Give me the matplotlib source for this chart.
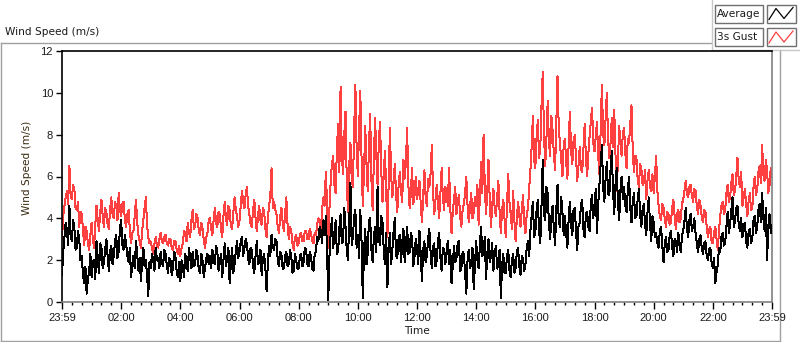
import numpy as np
import matplotlib
matplotlib.use("Agg")
import matplotlib.pyplot as plt
from matplotlib.patches import Rectangle

# ---- data: 2.5-minute samples, one row per hour (00..23) + final sample ----
average = [
    1.3, 2.4, 3.1, 3.8, 3.4, 2.7, 4.6, 3.2, 2.9, 3.9, 3.6, 2.5, 2.6, 3.4, 3.0, 2.0, 2.2, 1.3, 0.9, 1.7, 0.4, 1.1, 1.4, 2.3,
    1.2, 1.9, 2.0, 1.1, 2.9, 2.1, 1.4, 2.8, 2.6, 1.6, 1.9, 2.5, 3.0, 2.2, 1.5, 2.4, 2.7, 1.8, 2.2, 2.9, 3.2, 2.1, 2.4, 3.5,
    3.9, 2.7, 2.5, 3.2, 2.8, 2.2, 1.9, 2.6, 1.2, 1.8, 2.2, 1.6, 2.9, 2.3, 1.5, 2.1, 1.0, 1.9, 2.6, 1.7, 2.0, 1.3, 0.3, 1.9,
    1.6, 2.3, 2.0, 1.5, 2.6, 2.0, 2.1, 1.6, 2.4, 1.9, 1.7, 2.5, 2.3, 1.8, 1.4, 2.1, 2.0, 1.3, 1.6, 2.4, 2.2, 1.5, 1.2, 1.9,
    1.0, 2.0, 1.7, 1.2, 2.3, 1.9, 1.5, 2.6, 2.1, 1.6, 2.4, 1.7, 1.8, 2.5, 2.2, 1.5, 1.4, 2.3, 2.0, 1.2, 1.6, 2.1, 2.3, 1.8,
    2.2, 1.6, 2.5, 2.0, 1.8, 2.7, 2.4, 1.5, 1.9, 2.3, 1.2, 2.0, 2.8, 1.7, 2.1, 2.6, 0.9, 1.8, 2.6, 1.4, 1.8, 2.4, 2.9, 2.1,
    2.4, 2.9, 3.1, 2.2, 2.6, 3.0, 2.8, 2.1, 1.8, 2.6, 2.5, 1.7, 1.4, 2.2, 2.9, 1.8, 1.9, 2.5, 1.3, 2.1, 2.3, 1.6, 0.5, 1.9,
    2.7, 2.2, 3.2, 2.6, 2.5, 3.0, 2.9, 2.0, 1.7, 2.4, 2.3, 1.6, 1.6, 2.2, 2.4, 1.7, 1.8, 2.5, 2.2, 1.4, 1.5, 2.3, 2.0, 1.6,
    1.6, 2.2, 2.3, 1.7, 1.9, 2.6, 2.5, 1.8, 1.7, 2.4, 2.2, 1.6, 1.5, 2.3, 2.4, 3.1, 2.9, 3.6, 3.4, 2.8, 3.9, 3.2, 4.1, 2.5,
    0.1, 2.2, 3.3, 4.0, 2.6, 3.1, 3.9, 2.3, 2.4, 3.5, 4.2, 2.8, 2.9, 4.5, 3.6, 2.5, 2.0, 3.9, 5.7, 2.7, 3.1, 4.1, 4.4, 2.6,
    3.2, 2.1, 4.4, 2.9, 0.2, 2.4, 3.5, 1.8, 2.3, 3.9, 4.0, 2.5, 1.9, 3.1, 3.6, 2.4, 5.5, 3.0, 2.7, 4.1, 3.8, 2.5, 1.8, 3.3,
    0.7, 2.6, 3.3, 1.8, 2.5, 3.4, 4.0, 2.2, 2.1, 3.0, 3.2, 1.9, 2.8, 3.5, 1.9, 2.7, 3.6, 2.3, 2.4, 3.3, 3.1, 1.7, 2.2, 3.0,
    2.6, 1.8, 3.4, 2.3, 1.0, 2.5, 2.9, 1.9, 2.2, 3.0, 3.5, 2.4, 1.6, 2.6, 2.8, 1.7, 2.0, 2.9, 3.3, 2.1, 1.5, 2.6, 2.5, 1.8,
    2.4, 2.9, 1.8, 2.5, 0.9, 1.7, 2.7, 1.9, 2.1, 2.8, 2.9, 1.5, 1.6, 2.4, 2.3, 1.4, 0.4, 2.0, 2.5, 1.6, 1.9, 2.6, 0.6, 1.8,
    2.9, 2.0, 1.6, 2.7, 3.6, 2.2, 2.4, 3.1, 1.1, 2.3, 3.0, 1.9, 2.2, 2.8, 1.5, 2.3, 2.7, 1.6, 1.8, 2.5, 0.2, 1.7, 2.3, 1.4,
    1.4, 2.2, 2.5, 1.5, 1.2, 2.0, 2.3, 1.4, 1.6, 2.4, 2.6, 1.7, 1.3, 2.2, 2.1, 1.5, 1.8, 2.6, 2.9, 2.2, 3.4, 4.1, 4.8, 3.1,
    3.3, 4.4, 4.9, 3.4, 2.8, 4.6, 6.8, 4.2, 3.9, 5.5, 5.2, 3.8, 3.0, 4.1, 4.6, 3.5, 2.7, 4.4, 5.6, 3.9, 3.6, 5.0, 4.3, 3.2,
    4.1, 3.3, 2.6, 3.9, 4.8, 3.7, 3.2, 4.4, 4.5, 3.4, 2.5, 3.6, 3.8, 4.6, 4.9, 3.5, 3.1, 4.2, 4.3, 3.6, 3.4, 4.7, 5.1, 4.0,
    4.6, 5.4, 3.3, 4.7, 5.6, 6.6, 7.5, 5.5, 4.8, 5.9, 6.7, 5.2, 5.1, 6.3, 7.2, 5.4, 4.2, 5.6, 6.4, 4.8, 3.9, 5.3, 6.0, 4.9,
    5.5, 4.6, 4.3, 5.3, 6.0, 4.5, 3.8, 4.8, 5.2, 4.0, 4.1, 4.9, 5.4, 4.2, 3.6, 4.4, 4.7, 3.7, 3.2, 4.3, 5.0, 3.8, 2.9, 4.1,
    3.8, 3.1, 3.3, 2.8, 2.6, 3.4, 3.6, 2.7, 1.9, 2.8, 3.1, 2.4, 2.5, 3.2, 3.4, 2.6, 2.2, 3.0, 2.9, 2.4, 3.3, 2.7, 2.4, 3.2,
    3.4, 3.9, 4.5, 3.5, 3.1, 3.9, 4.2, 3.4, 3.6, 4.0, 3.3, 2.8, 2.4, 3.0, 3.2, 2.6, 2.3, 2.8, 2.9, 2.2, 2.0, 2.5, 2.6, 1.9,
    1.6, 2.1, 0.9, 1.4, 1.8, 2.6, 2.4, 3.1, 3.3, 2.7, 2.8, 3.6, 4.3, 3.3, 3.7, 4.4, 5.0, 3.6, 3.9, 4.5, 4.6, 3.7, 3.4, 4.0,
    3.1, 3.6, 3.8, 2.9, 2.6, 3.3, 3.5, 2.8, 3.0, 3.9, 4.1, 3.3, 3.6, 4.4, 4.7, 3.8, 5.2, 4.0, 3.4, 4.5, 2.0, 3.6, 4.2, 3.3,
    3.7,
]
gust_3s = [
    3.0, 4.1, 4.6, 5.0, 5.3, 4.7, 6.5, 5.1, 4.9, 5.6, 5.4, 4.5, 4.4, 4.8, 3.6, 4.3, 4.2, 3.5, 2.7, 3.6, 3.4, 2.8, 2.5, 3.2,
    3.8, 3.0, 2.6, 3.7, 4.6, 3.9, 3.4, 4.3, 4.9, 4.1, 3.6, 4.5, 4.3, 3.7, 3.5, 4.4, 5.0, 4.2, 4.0, 4.8, 4.6, 3.9, 5.2, 4.4,
    4.1, 4.7, 4.8, 3.9, 3.6, 4.2, 4.4, 3.5, 2.8, 3.3, 3.4, 4.1, 4.9, 3.8, 3.2, 2.9, 2.6, 3.4, 3.9, 4.5, 5.0, 3.7, 3.1, 2.8,
    2.9, 2.6, 2.3, 2.8, 3.1, 2.7, 2.6, 3.0, 3.3, 2.9, 2.8, 3.1, 3.2, 2.8, 2.7, 3.0, 3.0, 2.6, 2.5, 2.9, 2.9, 2.5, 2.3, 2.7,
    2.2, 2.6, 2.8, 3.4, 3.3, 2.9, 3.8, 3.3, 3.1, 3.9, 4.4, 3.5, 3.6, 4.2, 4.0, 3.4, 3.2, 3.8, 3.5, 3.0, 2.6, 3.1, 3.3, 3.9,
    4.0, 3.5, 3.2, 3.9, 4.5, 3.8, 3.6, 4.3, 4.2, 3.5, 3.1, 4.1, 4.8, 4.0, 3.7, 4.6, 4.4, 3.6, 3.5, 4.3, 5.0, 4.4, 4.1, 3.6,
    3.9, 4.6, 5.3, 4.8, 4.5, 5.1, 5.5, 4.6, 4.2, 3.7, 3.6, 4.4, 4.9, 4.0, 3.4, 4.1, 4.6, 3.9, 3.7, 4.5, 4.3, 3.5, 3.1, 4.0,
    4.6, 5.1, 6.4, 4.5, 4.8, 4.4, 4.2, 3.6, 3.3, 4.1, 4.5, 3.8, 3.4, 4.2, 5.0, 3.7, 3.0, 3.6, 3.4, 2.8, 2.5, 3.1, 3.2, 2.7,
    2.8, 3.2, 3.3, 2.9, 2.9, 3.4, 3.4, 3.0, 3.0, 3.5, 3.3, 2.9, 2.8, 3.3, 3.2, 3.7, 4.0, 3.9, 3.4, 4.4, 5.0, 4.6, 6.2, 4.8,
    2.6, 4.5, 5.8, 6.6, 7.0, 5.6, 5.2, 7.3, 8.5, 6.2, 10.3, 7.1, 6.1, 8.0, 9.1, 5.8, 4.3, 6.5, 7.6, 5.9, 5.5, 8.2, 10.4, 7.4,
    6.0, 8.3, 10.1, 6.9, 4.6, 6.2, 8.4, 6.6, 5.3, 7.4, 9.0, 5.9, 4.4, 6.8, 8.8, 7.0, 5.6, 7.6, 8.6, 6.3, 4.8, 6.1, 7.2, 5.4,
    3.1, 5.8, 8.3, 6.1, 5.0, 5.7, 6.6, 5.2, 4.3, 5.5, 6.2, 5.3, 4.8, 6.8, 5.9, 6.7, 8.3, 5.6, 4.5, 5.2, 6.4, 4.7, 5.1, 6.0,
    4.9, 5.4, 5.8, 4.7, 3.8, 5.1, 6.3, 5.0, 4.6, 5.9, 5.5, 6.1, 7.5, 5.3, 4.2, 4.9, 5.6, 4.8, 4.0, 5.2, 6.4, 5.0, 4.4, 5.5,
    5.3, 4.6, 6.4, 4.5, 3.3, 4.3, 4.9, 5.5, 4.2, 4.8, 5.1, 4.1, 3.6, 4.4, 4.7, 5.2, 6.0, 4.6, 3.8, 4.5, 5.2, 4.0, 4.3, 5.0,
    4.6, 5.6, 3.7, 5.0, 6.7, 5.2, 8.0, 5.5, 4.2, 5.3, 6.8, 4.9, 3.6, 4.6, 5.4, 4.5, 4.1, 5.0, 5.8, 4.3, 3.3, 4.4, 4.9, 4.0,
    3.1, 4.6, 6.1, 4.8, 4.2, 3.5, 5.3, 3.9, 2.9, 4.0, 4.8, 4.1, 3.6, 4.4, 5.1, 3.8, 3.3, 4.2, 4.5, 5.4, 6.3, 7.4, 8.9, 6.8,
    6.4, 7.9, 8.7, 6.9, 7.3, 9.4, 11.0, 8.1, 6.5, 7.8, 9.6, 7.7, 7.0, 8.9, 8.2, 7.1, 6.3, 8.5, 10.8, 8.3, 7.6, 6.8, 6.0, 7.5,
    7.8, 6.7, 5.9, 7.5, 9.1, 7.2, 6.6, 7.7, 8.0, 6.9, 5.8, 6.5, 7.4, 6.4, 6.2, 7.3, 8.5, 7.0, 6.0, 7.1, 7.9, 8.6, 9.3, 7.6,
    7.2, 7.9, 8.6, 7.0, 6.1, 8.2, 10.4, 8.0, 7.5, 8.7, 10.0, 7.8, 6.9, 7.6, 8.8, 7.4, 9.2, 7.1, 5.3, 6.7, 8.4, 7.7, 7.0, 8.1,
    8.3, 7.1, 6.4, 7.8, 7.6, 8.5, 9.4, 7.3, 6.2, 7.0, 6.9, 5.9, 5.5, 6.6, 6.4, 5.6, 5.7, 6.3, 4.9, 5.8, 6.3, 5.5, 5.3, 6.1,
    5.2, 6.0, 7.0, 5.3, 4.6, 4.1, 3.9, 4.7, 4.5, 4.0, 3.6, 4.3, 4.2, 3.7, 3.8, 4.5, 4.9, 4.1, 3.5, 4.2, 4.4, 3.8, 4.0, 4.7,
    4.9, 5.3, 5.8, 5.2, 5.0, 5.5, 5.6, 5.1, 4.8, 5.4, 5.3, 4.6, 4.2, 4.9, 4.6, 4.1, 3.8, 4.4, 4.3, 3.6, 3.1, 3.5, 3.6, 2.9,
    2.8, 3.3, 3.6, 3.0, 2.5, 3.4, 4.1, 4.6, 4.8, 4.2, 4.4, 5.2, 5.6, 4.8, 5.0, 5.7, 6.1, 5.1, 5.3, 6.0, 6.9, 5.8, 5.5, 6.2,
    4.6, 5.0, 5.4, 4.7, 4.1, 4.8, 5.2, 4.4, 4.5, 5.5, 6.0, 5.1, 5.4, 6.2, 6.5, 5.7, 7.5, 6.1, 5.8, 6.8, 6.3, 5.2, 5.6, 6.4,
    6.0,
]
sample_minutes = 2.5
xtick_hours = [0, 2, 4, 6, 8, 10, 12, 14, 16, 18, 20, 22, 24]
xtick_labels = ["23:59", "02:00", "04:00", "06:00", "08:00", "10:00", "12:00",
                "14:00", "16:00", "18:00", "20:00", "22:00", "23:59"]
yticks = [0, 2, 4, 6, 8, 10, 12]
series_names = ["Average", "3s Gust"]

hours = np.arange(len(average)) * sample_minutes / 60.0

W, H = 800, 342
fig = plt.figure(figsize=(W / 100, H / 100), dpi=100)
fig.patch.set_facecolor("white")

txt = "#1a1a1a"
FONT = "DejaVu Sans"
TFONT = "Liberation Sans"

# overlay for frames (pixel coords)
ov = fig.add_axes([0, 0, 1, 1], zorder=0)
ov.set_xlim(0, W)
ov.set_ylim(H, 0)
ov.axis("off")
fc = "#a0a0a0"
ov.plot([1, 711], [42.5, 42.5], color=fc, lw=1)
ov.plot([1, 1], [42.5, 341], color=fc, lw=1)
ov.plot([1, 780], [341, 341], color=fc, lw=1)
ov.plot([780, 780], [49.5, 341], color=fc, lw=1)
ov.plot([711.5, 711.5], [0, 49.5], color="#c8c8c8", lw=1)
ov.plot([711.5, 800], [49.5, 49.5], color="#c8c8c8", lw=1)

# legend boxes
leg_colors = ["black", "#ff4040"]
for i, (name, col) in enumerate(zip(series_names, leg_colors)):
    y0 = 4.5 + i * 23.5
    ov.add_patch(Rectangle((714.5, y0), 48, 18, fill=False, ec="#707070", lw=1))
    ov.add_patch(Rectangle((766.5, y0), 29, 18, fill=False, ec="#707070", lw=1))
    ov.text(717, y0 + 9.5, name, fontsize=7.6, family=FONT, color=txt,
            va="center", ha="left")
    ov.plot([769, 776, 784, 793], [y0 + 15, y0 + 4, y0 + 14, y0 + 3],
            color=col, lw=0.9)

fig.text(5 / W, 1 - 32 / H, "Wind Speed (m/s)", fontsize=7.6, family=FONT,
         color=txt, va="center", ha="left")

# main plot
ax = fig.add_axes([62 / W, 40 / H, 710 / W, 251 / H], zorder=2)
ax.plot(hours, gust_3s, color="#ff4040", lw=0.72, zorder=2, antialiased=False)
ax.plot(hours, average, color="black", lw=0.72, zorder=3, antialiased=False)
ax.set_xlim(0, 24)
ax.set_ylim(0, 12)

ax.set_xticks(xtick_hours)
ax.set_xticklabels(xtick_labels, fontsize=8, family=TFONT, color=txt)
ax.set_xticks(np.arange(0, 24.01, 1 / 3), minor=True)
ax.set_yticks(yticks)
ax.set_yticklabels([str(v) for v in yticks], fontsize=8, family=TFONT, color=txt)

ax.tick_params(axis="x", which="major", length=5, width=1, color="black",
               pad=3, direction="out")
ax.tick_params(axis="x", which="minor", length=2.5, width=1, color="black",
               direction="out")
ax.tick_params(axis="y", which="major", length=4, width=1, color="black",
               pad=2.5, direction="out")

for s in ["top", "left"]:
    ax.spines[s].set_color("black")
    ax.spines[s].set_linewidth(1.2)
for s in ["bottom", "right"]:
    ax.spines[s].set_color("#808080")
    ax.spines[s].set_linewidth(1.2)

ax.set_xlabel("Time", fontsize=7.6, family=FONT, color=txt, labelpad=2)
ax.set_ylabel("Wind Speed (m/s)", fontsize=7.6, family=FONT, color="#3a2a10")
ax.yaxis.set_label_coords(-0.042, 0.535)

fig.savefig("out.png", dpi=100)
